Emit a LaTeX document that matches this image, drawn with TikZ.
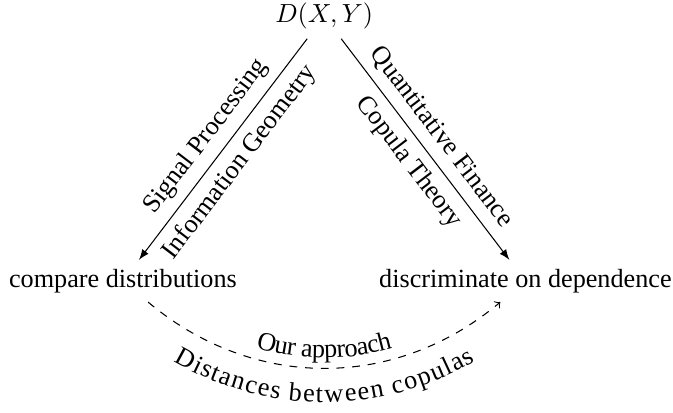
\documentclass[tikz,border=0pt]{standalone}
\usepackage{fontspec}
\setmainfont{Liberation Serif}
\usetikzlibrary{decorations.text}

\begin{document}
\begin{tikzpicture}
% Page size is fixed by this box
\useasboundingbox (-4.35,-5.32) rectangle (4.68,0.22);
% Top node and the two lower nodes
\node (dxy) at (0,0) {$D(X,Y)$};
\node (cmp) at (-2.7,-3.55) {compare distributions};
\node (dsc) at (2.7,-3.55) {discriminate on dependence};
% Arrows from the top node, with a label on each side
\draw[-latex] (dxy) -- (cmp)
  node[midway,sloped,above] {Signal Processing}
  node[midway,sloped,below] {Information Geometry};
\draw[-latex] (dxy) -- (dsc)
  node[midway,sloped,above] {Quantitative Finance}
  node[midway,sloped,below] {Copula Theory};
% Dashed arc between the two lower nodes
\draw[dashed,->] (cmp) to[bend right=40] (dsc);
% Text above and below the arc
\path[decorate,decoration={text along path,text align=center,
  raise=4pt,text={Our approach}}]
  (cmp) to[bend right=40] (dsc);
\path[decorate,decoration={text along path,text align=center,
  raise=-13pt,text={Distances between copulas}}]
  (cmp) to[bend right=40] (dsc);
\end{tikzpicture}
\end{document}
